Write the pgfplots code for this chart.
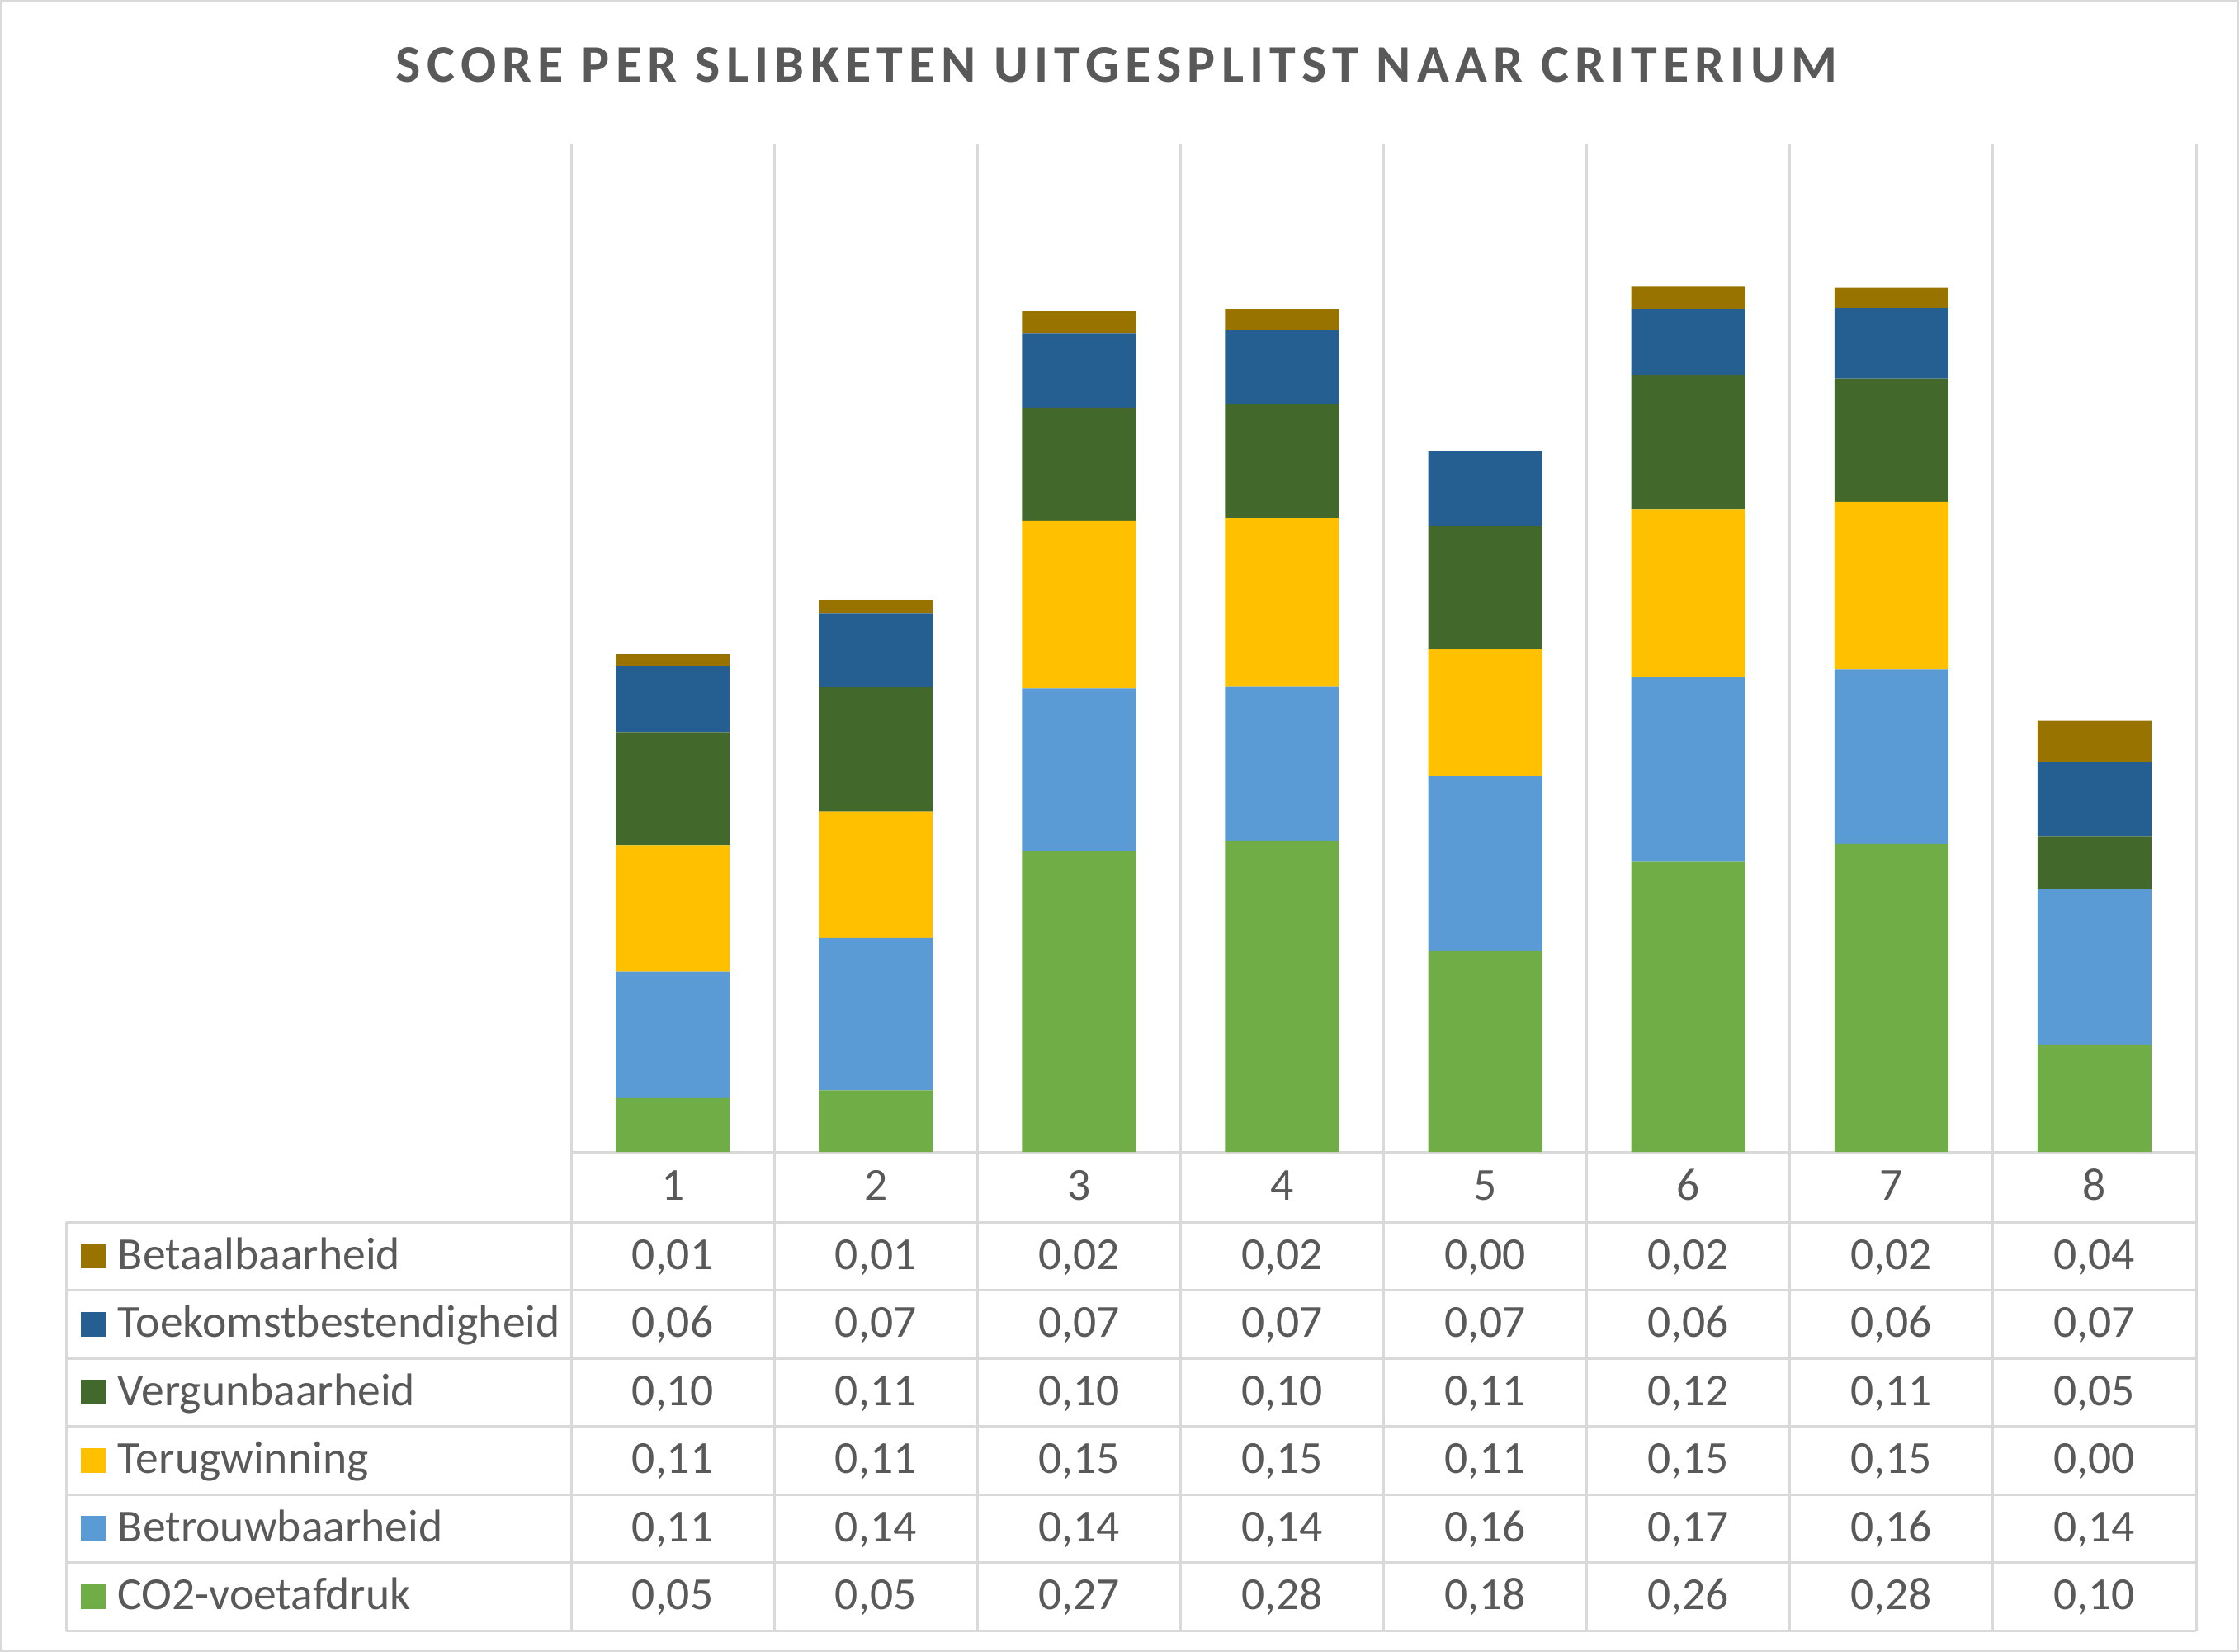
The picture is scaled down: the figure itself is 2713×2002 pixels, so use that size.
\documentclass[border=0pt]{standalone}
\usepackage{pgfplots}
\pgfplotsset{compat=1.18}
\usepackage{fontspec}
\setmainfont{Carlito}
\definecolor{cco}{HTML}{70AD47}
\definecolor{cbe}{HTML}{5B9BD5}
\definecolor{cte}{HTML}{FFC000}
\definecolor{cve}{HTML}{43682B}
\definecolor{cto}{HTML}{255E91}
\definecolor{cba}{HTML}{997300}
\definecolor{txt}{HTML}{595959}
\definecolor{gridc}{HTML}{D9D9D9}
\newcommand\tfont{\fontsize{13.9pt}{16.5pt}\selectfont}
% row: #1 = baseline y (px), #2..#9 values
\newcommand\trow[9]{%
  \node at (815.1,#1) {#2};
  \node at (1061.2,#1) {#3};
  \node at (1307.3,#1) {#4};
  \node at (1553.4,#1) {#5};
  \node at (1799.6,#1) {#6};
  \node at (2045.7,#1) {#7};
  \node at (2291.8,#1) {#8};
  \node at (2537.9,#1) {#9};
}
\begin{document}
\begin{tikzpicture}
\begin{scope}[x=0.25pt,y=-0.25pt]
\useasboundingbox (0,0) rectangle (2713,2002);
\draw[gridc, line width=0.75pt] (1.5,1.5) rectangle (2711.5,2000.5);
\foreach \k in {0,...,8} \draw[gridc, line width=0.75pt] ({692+246.125*\k},175) -- ({692+246.125*\k},1976);
\draw[gridc, line width=0.75pt] (692,1396) -- (2661,1396);
\foreach \k in {0,...,6} \draw[gridc, line width=0.75pt] (80,{1481+82.5*\k}) -- (2661,{1481+82.5*\k});
\draw[gridc, line width=0.75pt] (80,1481) -- (80,1976);
\end{scope}

\begin{axis}[at={(173pt,-349pt)}, anchor=south west, scale only axis,
  width=492.25pt, height=305.25pt,
  xmin=0.5, xmax=8.5, ymin=0, ymax=0.9,
  hide axis, ybar stacked, bar width=34.5pt, clip=false]
\addplot[fill=cco, draw=none] coordinates {(1,0.048) (2,0.055) (3,0.269) (4,0.278) (5,0.180) (6,0.259) (7,0.275) (8,0.096)};
\addplot[fill=cbe, draw=none] coordinates {(1,0.113) (2,0.136) (3,0.145) (4,0.138) (5,0.156) (6,0.165) (7,0.156) (8,0.139)};
\addplot[fill=cte, draw=none] coordinates {(1,0.113) (2,0.113) (3,0.150) (4,0.150) (5,0.113) (6,0.150) (7,0.150) (8,0.000)};
\addplot[fill=cve, draw=none] coordinates {(1,0.101) (2,0.111) (3,0.101) (4,0.102) (5,0.110) (6,0.120) (7,0.110) (8,0.047)};
\addplot[fill=cto, draw=none] coordinates {(1,0.059) (2,0.066) (3,0.066) (4,0.066) (5,0.067) (6,0.059) (7,0.063) (8,0.066)};
\addplot[fill=cba, draw=none] coordinates {(1,0.011) (2,0.012) (3,0.020) (4,0.019) (5,0.000) (6,0.020) (7,0.018) (8,0.037)};
\end{axis}

\begin{scope}[x=0.25pt,y=-0.25pt, every node/.style={anchor=base, inner sep=0pt, text=txt, font=\tfont}]
\node[font=\fontsize{16pt}{19pt}\selectfont\bfseries\addfontfeature{LetterSpace=11.4}] at (1353,99.3) {SCORE PER SLIBKETEN UITGESPLITST NAAR CRITERIUM};
\trow{1454.5}{1}{2}{3}{4}{5}{6}{7}{8}
\trow{1538.25}{0,01}{0,01}{0,02}{0,02}{0,00}{0,02}{0,02}{0,04}
\trow{1620.75}{0,06}{0,07}{0,07}{0,07}{0,07}{0,06}{0,06}{0,07}
\trow{1703.25}{0,10}{0,11}{0,10}{0,10}{0,11}{0,12}{0,11}{0,05}
\trow{1785.75}{0,11}{0,11}{0,15}{0,15}{0,11}{0,15}{0,15}{0,00}
\trow{1868.25}{0,11}{0,14}{0,14}{0,14}{0,16}{0,17}{0,16}{0,14}
\trow{1950.75}{0,05}{0,05}{0,27}{0,28}{0,18}{0,26}{0,28}{0,10}
\fill[cba] (98,1507.25) rectangle (128,1537.25);
\fill[cto] (98,1589.75) rectangle (128,1619.75);
\fill[cve] (98,1672.25) rectangle (128,1702.25);
\fill[cte] (98,1754.75) rectangle (128,1784.75);
\fill[cbe] (98,1837.25) rectangle (128,1867.25);
\fill[cco] (98,1919.75) rectangle (128,1949.75);
\node[anchor=base west] at (142,1538.25) {Betaalbaarheid};
\node[anchor=base west] at (142,1620.75) {Toekomstbestendigheid};
\node[anchor=base west] at (142,1703.25) {Vergunbaarheid};
\node[anchor=base west] at (142,1785.75) {Terugwinning};
\node[anchor=base west] at (142,1868.25) {Betrouwbaarheid};
\node[anchor=base west] at (142,1950.75) {CO2-voetafdruk};
\end{scope}
\end{tikzpicture}
\end{document}
